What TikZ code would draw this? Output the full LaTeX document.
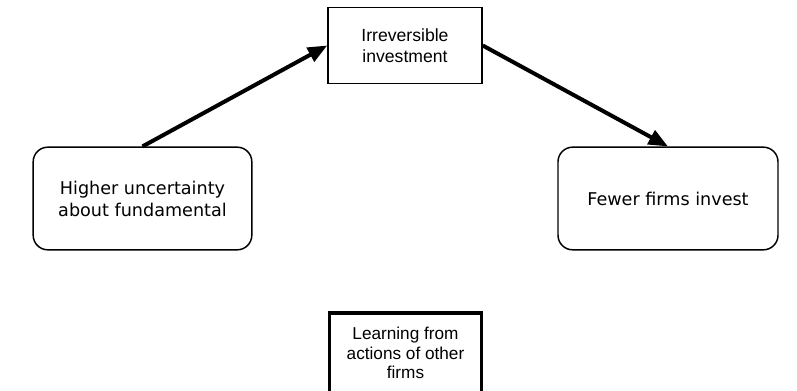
\documentclass[tikz,border=0pt]{standalone}
\usepackage{fontspec}
\setmainfont{Liberation Sans}
\newfontfamily\verdanalike{DejaVu Sans}
\usetikzlibrary{arrows.meta}
\begin{document}
\begin{tikzpicture}[x=0.75pt,y=-0.75pt,
  plainbox/.style={draw,line width=1.1pt,align=center,inner sep=0pt,
    font=\fontsize{13.2}{15.8}\selectfont},
  roundbox/.style={draw,line width=1.1pt,rounded corners=11pt,align=center,
    inner sep=0pt,font=\verdanalike\fontsize{13.2}{16.5}\selectfont},
  heavybox/.style={draw,line width=2.6pt,align=center,inner sep=0pt,
    font=\fontsize{12.9}{14.4}\selectfont},
  flow/.style={line width=3pt,-{Triangle[length=14.5pt,width=11.5pt]}}]
\useasboundingbox (0,0) rectangle (797,391);
\clip (0,0) rectangle (797,391);
% boxes
\node[plainbox,minimum width=115.5pt,minimum height=57pt] (inv) at (405,45.5)
  {Irreversible\\investment};
\node[roundbox,minimum width=164pt,minimum height=77pt] (unc) at (142.5,198.5)
  {Higher uncertainty\\about fundamental};
\node[roundbox,minimum width=165pt,minimum height=77pt] (few) at (668,198.5)
  {Fewer firms invest};
\node[heavybox,minimum width=114pt,minimum height=60pt] (learn) at (405.5,353)
  {Learning from\\actions of other\\firms};
% causal chain
\draw[flow] (unc.north) -- (inv.west);
\draw[flow] (inv.east) -- (few.north);
\end{tikzpicture}
\end{document}
